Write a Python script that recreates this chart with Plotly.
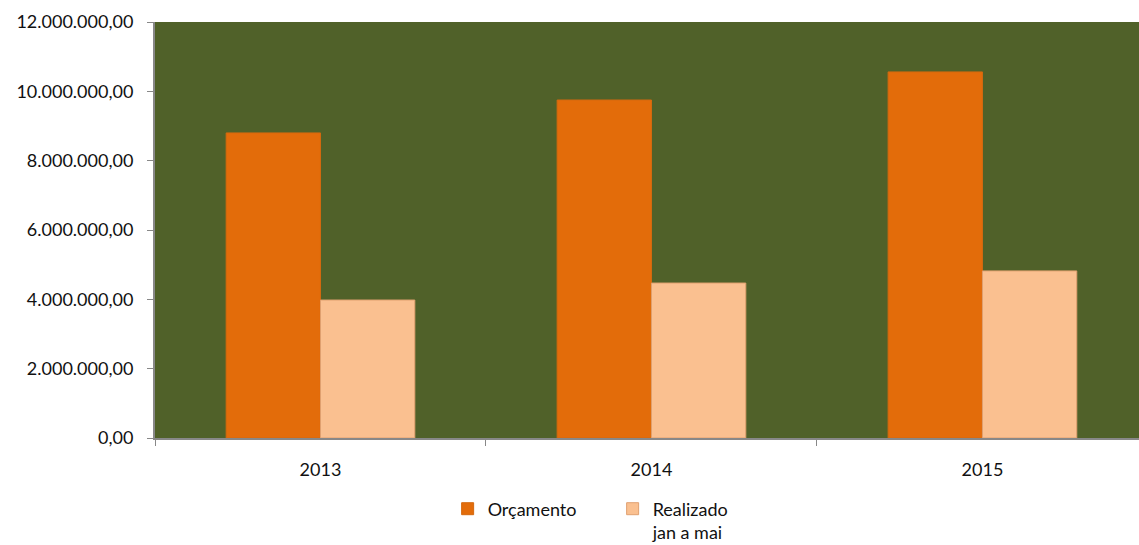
import plotly.graph_objects as go

years = ["2013", "2014", "2015"]
orcamento = [8800000, 9750000, 10560000]
realizado = [3980000, 4470000, 4820000]

fig = go.Figure()
fig.add_trace(go.Bar(x=years, y=orcamento, name="Orçamento",
                     marker=dict(color="#E36C0A", line=dict(color="#D4690F", width=1))))
fig.add_trace(go.Bar(x=years, y=realizado, name="Realizado<br>jan a mai",
                     marker=dict(color="#FAC090", line=dict(color="#E0A070", width=1))))

fig.update_layout(
    width=1139, height=545,
    margin=dict(l=155, r=0, t=22, b=107),
    paper_bgcolor="white", plot_bgcolor="#506129",
    barmode="group", bargap=0.43, bargroupgap=0,
    separators=",.",
    font=dict(family="Lato, Open Sans, sans-serif", size=18, color="#111111"),
    showlegend=True,
    legend=dict(orientation="h", xref="container", yref="container",
                x=0.393, xanchor="left", y=0.1, yanchor="top",
                font=dict(size=18), entrywidth=120, entrywidthmode="pixels",
                valign="top", traceorder="normal"),
)
fig.update_xaxes(type="category", range=[-0.5, 2.473], showline=True,
                 linecolor="#888888", linewidth=2,
                 ticks="outside", tickson="boundaries", ticklen=6, tickcolor="#888888",
                 showgrid=False, automargin=False, ticklabelstandoff=14)
fig.update_yaxes(range=[0, 12000000], dtick=2000000, tickformat=",.2f",
                 showline=True, linecolor="#888888", linewidth=2,
                 ticks="outside", ticklen=6, tickcolor="#888888",
                 showgrid=False, zeroline=False, automargin=False, ticklabelstandoff=10)

fig.write_html("out.html")
